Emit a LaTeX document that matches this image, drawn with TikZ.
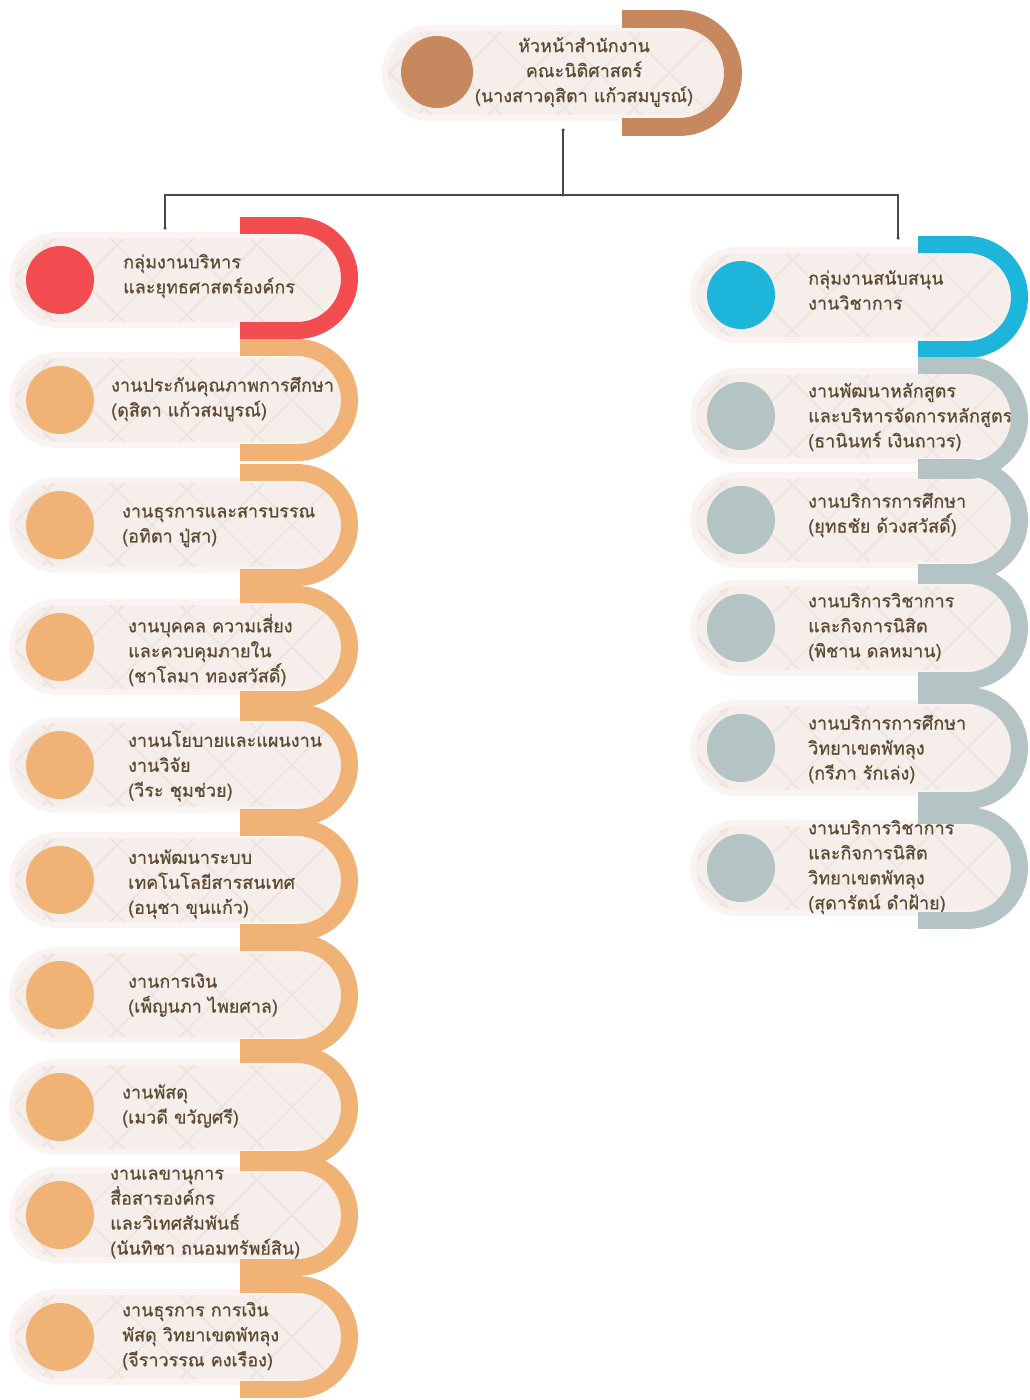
\documentclass[tikz,border=0pt]{standalone}
\usepackage{fontspec}
\newfontfamily\thaifont[Script=Thai, FakeBold=0.7]{Loma}
\usetikzlibrary{arrows.meta}

\definecolor{pillbg}{HTML}{F5EEEA}
\definecolor{pillhalo}{HTML}{F9F4F2}
\definecolor{lattice}{HTML}{EEE5E0}
\definecolor{txt}{HTML}{5C4A33}
\definecolor{cbrown}{HTML}{C8885F}
\definecolor{cred}{HTML}{F24B50}
\definecolor{corange}{HTML}{F1B275}
\definecolor{cblue}{HTML}{1DB6DA}
\definecolor{cgray}{HTML}{B4C3C3}
\definecolor{wire}{HTML}{4A4A4A}

\tikzset{
  pill/.style={fill=pillbg, draw=pillhalo, line width=6pt, rounded corners=45pt,
    minimum height=90pt, inner sep=0pt,
    path picture={
      \foreach \i in {-520,-450,...,520}{
        \draw[lattice, line width=2pt]
          ([shift={(\i-80,-80)}]path picture bounding box.center) --
          ([shift={(\i+80,80)}]path picture bounding box.center);
        \draw[lattice, line width=2pt]
          ([shift={(\i-80,80)}]path picture bounding box.center) --
          ([shift={(\i+80,-80)}]path picture bounding box.center);
      }}},
  bullet/.style={circle, minimum size=68pt, inner sep=0pt},
  caption/.style={font=\thaifont\fontsize{18}{25}\selectfont, text=txt,
    align=left, inner sep=0pt, anchor=west},
  wireline/.style={draw=wire, line width=1.1pt},
  wiredot/.style={fill=wire, circle, inner sep=0pt, minimum size=3.5pt},
}

% half ring: straight bands from x0 to cx, semicircle on the right
% #1 colour, #2 x0, #3 cx, #4 cy, #5 mid radius, #6 band width
\newcommand{\ringarc}[6]{%
  \begin{scope}
    \clip (#3,#4-#5-30) rectangle (#3+#5+30,#4+#5+30);
    \draw[#1, line width=#6pt] (#3,#4) circle[radius=#5];
  \end{scope}
  \draw[#1, line width=#6pt] (#2,#4-#5) -- (#3,#4-#5) (#2,#4+#5) -- (#3,#4+#5);
}

% one row: pill, coloured bullet and caption
% #1 name, #2 centre y, #3 colour, #4 text x, #5 text y, #6 caption
\newcommand{\orgrow}[6]{%
  \node[pill, minimum width=\colPR-\colPL] (#1) at ({(\colPL+\colPR)/2},#2) {};
  \node[bullet, fill=#3] (#1-dot) at (\colDX,#2) {};
  \node[caption] (#1-txt) at (#4,#5) {#6};
}

\begin{document}
\begin{tikzpicture}[x=1pt,y=-1pt]
\useasboundingbox (0,0) rectangle (1030,1400);

% ---------- head of office ----------
\def\colPL{385}\def\colPR{734}\def\colDX{437}
\node[pill, minimum width=\colPR-\colPL] (head) at ({(\colPL+\colPR)/2},73) {};
\node[bullet, fill=cbrown, minimum size=72pt] (head-dot) at (437,72) {};
\ringarc{cbrown}{622}{679}{73}{54}{18}
\node[caption, align=center, anchor=center] (head-txt) at (584,72)
  {หัวหน้าสำนักงาน\\คณะนิติศาสตร์\\(นางสาวดุสิตา แก้วสมบูรณ์)};

% ---------- left column ----------
\def\colPL{12}\def\colPR{352}\def\colDX{60}
\orgrow{gL}{280}{cred}{123}{276}{กลุ่มงานบริหาร\\และยุทธศาสตร์องค์กร}
\orgrow{L1}{400}{corange}{111}{399}{งานประกันคุณภาพการศึกษา\\(ดุสิตา แก้วสมบูรณ์)}
\orgrow{L2}{525}{corange}{122}{527}{งานธุรการและสารบรรณ\\(อทิตา ปู่สา)}
\orgrow{L3}{647}{corange}{128}{650}{งานบุคคล ความเสี่ยง\\และควบคุมภายใน\\(ชาโลมา ทองสวัสดิ์)}
\orgrow{L4}{765}{corange}{128}{766}{งานนโยบายและแผนงาน\\งานวิจัย\\(วีระ ชุมช่วย)}
\orgrow{L5}{880}{corange}{128}{884}{งานพัฒนาระบบ\\เทคโนโลยีสารสนเทศ\\(อนุชา ขุนแก้ว)}
\orgrow{L6}{995}{corange}{128}{995}{งานการเงิน\\(เพ็ญนภา ไพยศาล)}
\orgrow{L7}{1107}{corange}{122}{1106}{งานพัสดุ\\(เมวดี ขวัญศรี)}
\orgrow{L8}{1215}{corange}{110}{1214}{งานเลขานุการ\\สื่อสารองค์กร\\และวิเทศสัมพันธ์\\(นันทิชา ถนอมทรัพย์สิน)}
\orgrow{L9}{1337}{corange}{122}{1336}{งานธุรการ การเงิน\\พัสดุ วิทยาเขตพัทลุง\\(จีราวรรณ คงเรือง)}

% ---------- right column ----------
\def\colPL{693}\def\colPR{1022}\def\colDX{741}
\orgrow{gR}{295}{cblue}{808}{290}{กลุ่มงานสนับสนุน\\งานวิชาการ}
\orgrow{R1}{416}{cgray}{808}{417}{งานพัฒนาหลักสูตร\\และบริหารจัดการหลักสูตร\\(ธานินทร์ เงินถาวร)}
\orgrow{R2}{520}{cgray}{808}{515}{งานบริการการศึกษา\\(ยุทธชัย ด้วงสวัสดิ์)}
\orgrow{R3}{628}{cgray}{808}{627}{งานบริการวิชาการ\\และกิจการนิสิต\\(พิชาน ดลหมาน)}
\orgrow{R4}{748}{cgray}{808}{749}{งานบริการการศึกษา\\วิทยาเขตพัทลุง\\(กรีภา รักเล่ง)}
\orgrow{R5}{868}{cgray}{808}{867}{งานบริการวิชาการ\\และกิจการนิสิต\\วิทยาเขตพัทลุง\\(สุดารัตน์ ดำฝ้าย)}

% ---------- half rings, drawn over the pills ----------
\ringarc{cred}{240}{297}{278}{52.5}{17}
\foreach \y in {400,525,647,765,880,995,1107,1215,1337}
  {\ringarc{corange}{240}{297}{\y}{52.5}{17}}
\ringarc{cblue}{918}{967}{297}{52.5}{17}
\foreach \y in {418,520,628,748,868}
  {\ringarc{cgray}{918}{967}{\y}{52.5}{17}}

% ---------- connectors ----------
\coordinate (hTop) at (563,130);
\coordinate (hub)  at (563,195);
\coordinate (lEnd) at (165,228);
\coordinate (rEnd) at (898,238);
\draw[wireline] (hTop) -- (hub);
\draw[wireline] (lEnd) |- (hub) -| (rEnd);
\foreach \c in {hTop,hub,lEnd,rEnd} \node[wiredot] at (\c) {};
\end{tikzpicture}
\end{document}
